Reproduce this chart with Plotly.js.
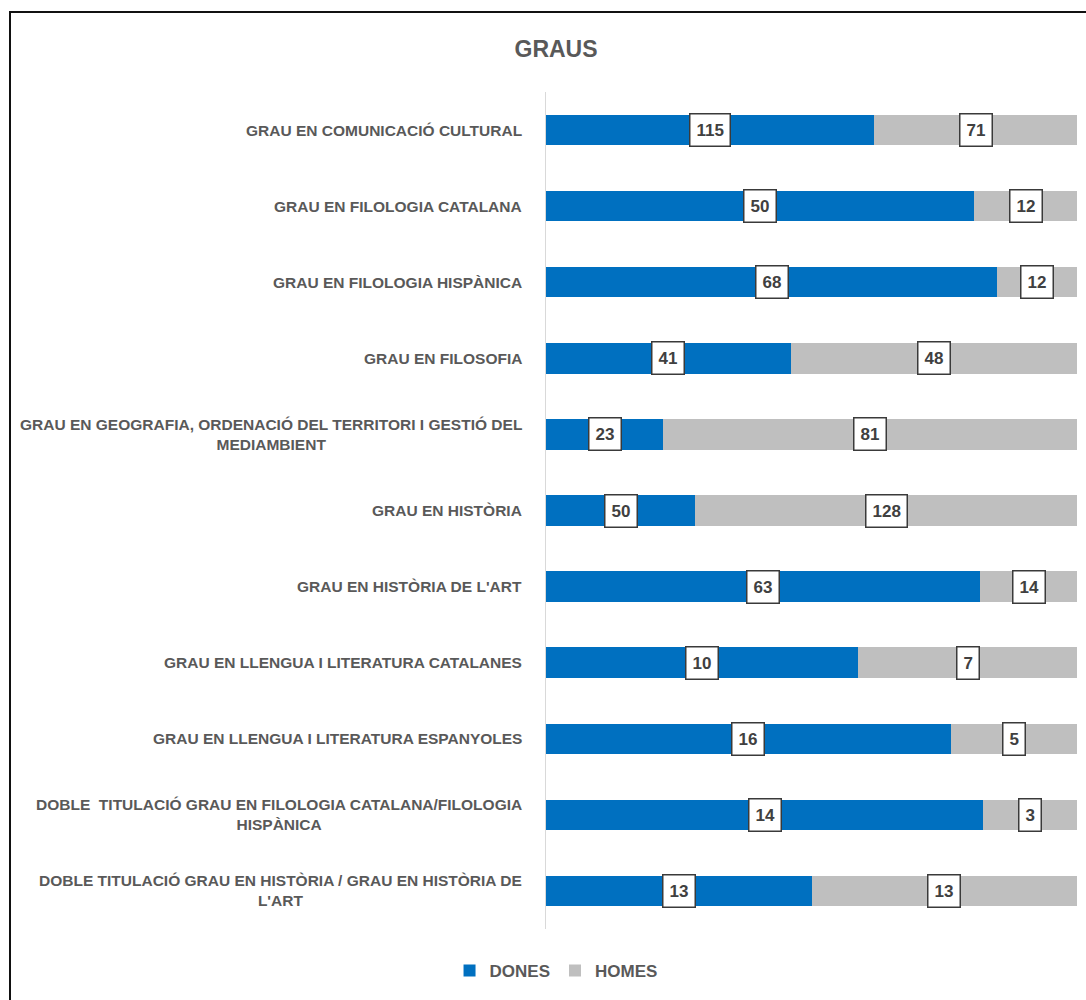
<!DOCTYPE html>
<html>
<head>
<meta charset="utf-8">
<script src="https://cdn.plot.ly/plotly-3.0.1.min.js"></script>
<style>
  html, body { margin: 0; padding: 0; background: #fff; }
  #wrap { position: relative; width: 1086px; height: 1000px; }
  #chart { width: 1086px; height: 1000px; }
  #frame { position: absolute; left: 9px; top: 11px; width: 1100px; height: 1000px;
           border-left: 2px solid #111; border-top: 2px solid #111; pointer-events: none; }
</style>
</head>
<body>
<div id="wrap">
  <div id="chart"></div>
  <div id="frame"></div>
</div>
<script>
const categories = [
  "GRAU EN COMUNICACIÓ CULTURAL",
  "GRAU EN FILOLOGIA CATALANA",
  "GRAU EN FILOLOGIA HISPÀNICA",
  "GRAU EN FILOSOFIA",
  "GRAU EN GEOGRAFIA, ORDENACIÓ DEL TERRITORI I GESTIÓ DEL<br>MEDIAMBIENT",
  "GRAU EN HISTÒRIA",
  "GRAU EN HISTÒRIA DE L'ART",
  "GRAU EN LLENGUA I LITERATURA CATALANES",
  "GRAU EN LLENGUA I LITERATURA ESPANYOLES",
  "DOBLE  TITULACIÓ GRAU EN FILOLOGIA CATALANA/FILOLOGIA<br>HISPÀNICA",
  "DOBLE TITULACIÓ GRAU EN HISTÒRIA / GRAU EN HISTÒRIA DE<br>L'ART"
];
const dones = [115, 50, 68, 41, 23, 50, 63, 10, 16, 14, 13];
const homes = [71, 12, 12, 48, 81, 128, 14, 7, 5, 3, 13];
const seriesNames = ["DONES", "HOMES"];
const chartTitle = "GRAUS";

const FONT = "'Liberation Sans Narrow', 'Liberation Sans', Arial, sans-serif";
const TXT = "#595959";

const traces = [
  { type: 'bar', orientation: 'h', name: seriesNames[0], y: categories, x: dones,
    marker: { color: '#0070C0' }, hoverinfo: 'x+y' },
  { type: 'bar', orientation: 'h', name: seriesNames[1], y: categories, x: homes,
    marker: { color: '#BFBFBF' }, hoverinfo: 'x+y' }
];

const annotations = [];
categories.forEach((c, i) => {
  const tot = dones[i] + homes[i];
  const pd = dones[i] / tot * 100;
  const ph = homes[i] / tot * 100;
  // category label
  annotations.push({ xref: 'paper', yref: 'y', x: 0, y: c, xanchor: 'right', yanchor: 'middle',
    xshift: -22, text: c, showarrow: false, align: 'center',
    font: { family: FONT, size: 15.5, color: TXT, weight: 'bold' } });
  // data labels
  [[pd / 2, dones[i]], [pd + ph / 2, homes[i]]].forEach(([xv, v]) => {
    annotations.push({ xref: 'x', yref: 'y', x: xv, y: c, text: String(v), showarrow: false,
      bgcolor: '#ffffff', bordercolor: '#3a3a3a', borderwidth: 1.5, borderpad: 6,
      font: { family: FONT, size: 17, color: '#404040', weight: 'bold' } });
  });
});

const layout = {
  width: 1086, height: 1000,
  margin: { l: 546, r: 9, t: 92, b: 71 },
  paper_bgcolor: '#ffffff', plot_bgcolor: '#ffffff',
  barmode: 'stack', barnorm: 'percent', bargap: 0.6,
  title: { text: chartTitle, xref: 'container', x: 0.512, xanchor: 'center',
           yref: 'container', y: 0.951, yanchor: 'middle',
           font: { family: FONT, size: 23, color: TXT, weight: 'bold' } },
  xaxis: { range: [0, 100], showticklabels: false, showgrid: false, zeroline: false,
           showline: false, ticks: '', fixedrange: true },
  yaxis: { autorange: 'reversed', showticklabels: false, showgrid: false, zeroline: false,
           showline: true, linecolor: '#d9d9d9', linewidth: 1, ticks: '' },
  showlegend: true,
  legend: { orientation: 'h', xref: 'container', x: 0.512, xanchor: 'center',
            yref: 'container', y: 0.029, yanchor: 'middle',
            font: { family: FONT, size: 17, color: TXT, weight: 'bold' },
            itemwidth: 30, traceorder: 'normal' },
  annotations: annotations
};

Plotly.newPlot('chart', traces, layout, { displayModeBar: false, staticPlot: true });
</script>
</body>
</html>
